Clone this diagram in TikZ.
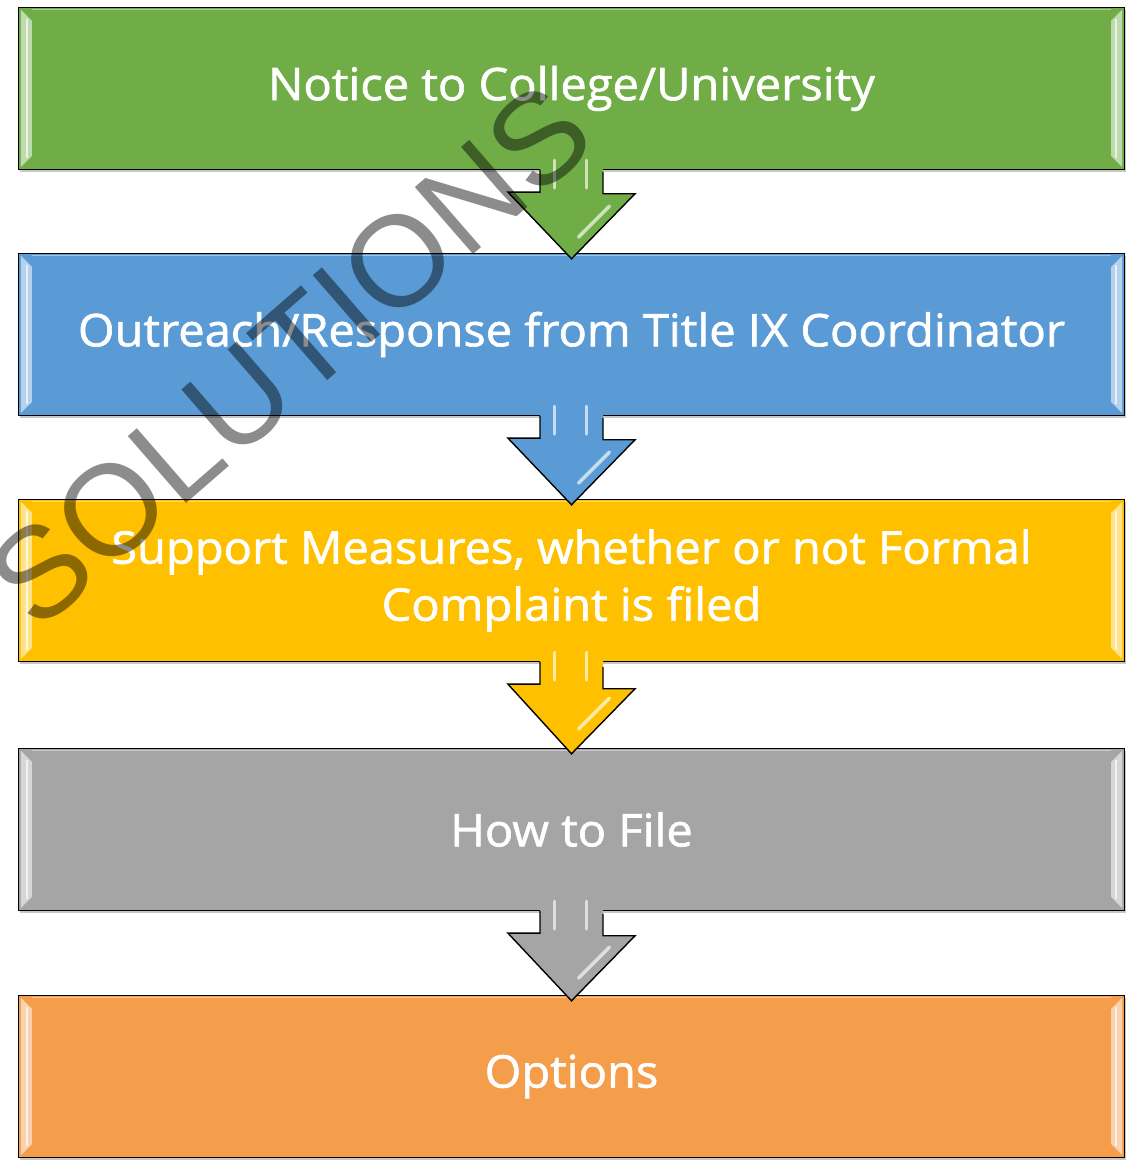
\documentclass[tikz,border=0pt]{standalone}
\usepackage{fontspec}
\setmainfont{Open Sans}
\newfontfamily\boxfont{Open Sans}[FakeBold=1.4, FakeStretch=1.045]
\newfontfamily\markfont{Liberation Sans}
\usetikzlibrary{calc}

\definecolor{stepgreen}{HTML}{70AD47}
\definecolor{stepblue}{HTML}{5B9BD5}
\definecolor{stepgold}{HTML}{FFC000}
\definecolor{stepgrey}{HTML}{A5A5A5}
\definecolor{steporange}{HTML}{F49D4A}

% block arrow from the bottom of one box into the top of the next
\newcommand{\flowarrow}[3]{%
    \fill[#3] (#1.south) ++(-31.5,12) -- ++(0,-34) -- ++(-32,0)
        -- ([yshift=-6pt]#2.north) -- ++(63.5,65) -- ++(-32,0) -- ++(0,34) -- cycle;
    \draw[line width=1.4pt, line join=miter] (#1.south) ++(-31.5,0) -- ++(0,-22) -- ++(-32,0)
        -- ([yshift=-6pt]#2.north) -- ++(63.5,65) -- ++(-32,0) -- ++(0,22);
    \draw[#3!35!white, line width=3pt, line cap=round] (#1.south) ++(-17,10) -- ++(0,-28);
    \draw[#3!35!white, line width=3pt, line cap=round] (#1.south) ++(15,10) -- ++(0,-28);
    \draw[#3!35!white, line width=3.5pt, line cap=round] (#1.south) ++(38,-36) -- ++(-31,-31);
}

\begin{document}
\begin{tikzpicture}[x=1pt,y=1pt]
    \useasboundingbox (0,0) rectangle (1140,1161);
    \tikzset{stepbox/.style={rectangle, draw=black, line width=1.4pt, minimum width=1106,
        minimum height=162, inner sep=0, text=white, align=center,
        font=\boxfont\fontsize{45}{57}\selectfont,
        preaction={fill=black!22, transform canvas={xshift=1.5pt, yshift=-3pt}}}}

    \node[stepbox, fill=stepgreen] (box1) at (571.5, 1072.5) {Notice to College/University};
    \node[stepbox, fill=stepblue] (box2) at (571.5, 826.5) {Outreach/Response from Title IX Coordinator};
    \node[stepbox, fill=stepgold] (box3) at (571.5, 580.5) {Support Measures, whether or not Formal\\Complaint is filed};
    \node[stepbox, fill=stepgrey] (box4) at (571.5, 331.5) {How to File};
    \node[stepbox, fill=steporange] (box5) at (571.5, 84.5) {Options};

    % bevel strips on both short sides
    \foreach \b/\c in {box1/stepgreen, box2/stepblue, box3/stepgold, box4/stepgrey, box5/steporange} {
        \fill[\c!45!white] ([shift={(3,-3)}]\b.north west) -- ++(11,-11) -- ([shift={(14,14)}]\b.south west)
            -- ++(-11,-11) -- cycle;
        \fill[\c!45!white] ([shift={(-3,-3)}]\b.north east) -- ++(-11,-11) -- ([shift={(-14,14)}]\b.south east)
            -- ++(11,-11) -- cycle;
        \draw[\c!15!white, line width=2.5pt] ([shift={(9,-12)}]\b.north west) -- ([shift={(9,12)}]\b.south west);
        \draw[\c!15!white, line width=2.5pt] ([shift={(-9,-12)}]\b.north east) -- ([shift={(-9,12)}]\b.south east);
        \draw[\c!60!white, line width=1.5pt] ([shift={(14,-2.5)}]\b.north west) -- ([shift={(-14,-2.5)}]\b.north east);
    }

    \flowarrow{box1}{box2}{stepgreen}
    \flowarrow{box2}{box3}{stepblue}
    \flowarrow{box3}{box4}{stepgold}
    \flowarrow{box4}{box5}{stepgrey}

    \node[inner sep=0, text=black, text opacity=0.45, rotate=41,
        font=\markfont\fontsize{129}{129}\selectfont] (mark) at (290, 806) {SOLUTIONS};
\end{tikzpicture}
\end{document}
